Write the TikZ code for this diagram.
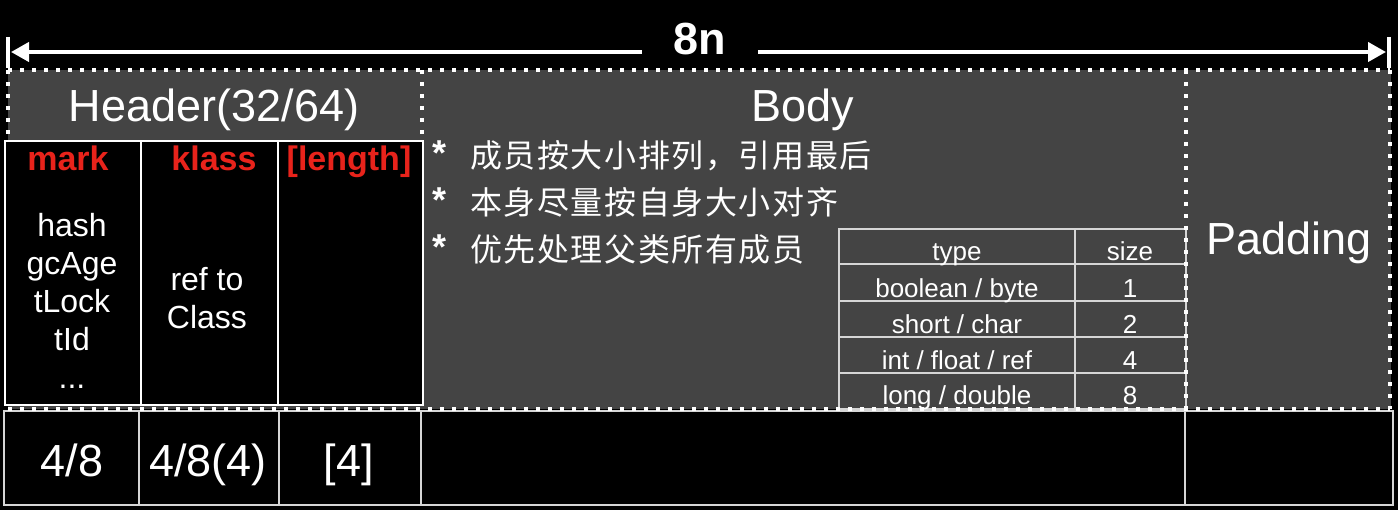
\documentclass[tikz,border=0pt]{standalone}
\usepackage{fontspec}
\setmainfont{Liberation Sans}
\newfontfamily\cjk[LetterSpace=5]{Noto Sans CJK SC}
\usetikzlibrary{arrows.meta}
\definecolor{greyc}{RGB}{68,68,68}
\definecolor{linec}{RGB}{214,214,214}
\definecolor{redc}{RGB}{232,35,27}
\newcommand\myfs[1]{\fontsize{#1}{#1}\selectfont}
\begin{document}
\begin{tikzpicture}[x=1pt,y=-1pt,
  dotln/.style={draw=white,line width=4pt,dash pattern=on 4pt off 8pt},
  gridln/.style={draw=linec,line width=2pt},
  wbox/.style={draw=white,line width=2pt},
  dimln/.style={draw=white,line width=4pt},
  big/.style={text=white,inner sep=0pt,anchor=base,font=\myfs{45}},
  redlbl/.style={text=redc,inner sep=0pt,anchor=base,font=\myfs{34}\bfseries},
  mid/.style={text=white,inner sep=0pt,anchor=base,font=\myfs{32}},
  tbl/.style={text=white,inner sep=0pt,anchor=base,font=\myfs{26}},
  cjkline/.style={text=white,inner sep=0pt,anchor=base west,font=\cjk\myfs{32}},
  star/.style={text=white,inner sep=0pt,anchor=base,font=\myfs{36}\bfseries}
]
\useasboundingbox (0,0) rectangle (1398,510);
\fill[black] (0,0) rectangle (1398,510);

% ---- dimension line ----
\coordinate (Ltop) at (8,37); \coordinate (Lbot) at (8,68);
\coordinate (Rtop) at (1389,37); \coordinate (Rbot) at (1389,68);
\coordinate (L) at (11,52); \coordinate (R) at (1386,52);
\draw[dimln] (Ltop) -- (Lbot);
\draw[dimln] (Rtop) -- (Rbot);
\node[text=white,inner ysep=0pt,inner xsep=32pt,anchor=base,font=\myfs{45}\bfseries] (n8) at (700,55) {8n};
\draw[dimln,{Triangle[length=18pt,width=19pt]}-] (L) -- (L -| n8.west);
\draw[dimln,-{Triangle[length=18pt,width=19pt]}] (R -| n8.east) -- (R);

% ---- grey region ----
\fill[greyc] (8,70) rectangle (1391,409);

% ---- type table ----
\draw[gridln] (839,229) rectangle (1186,409);
\draw[gridln] (1075,229) -- (1075,409);
\foreach \yy in {264,301,337,373} { \draw[gridln] (839,\yy) -- (1186,\yy); }

% ---- header black box ----
\fill[black] (5,141) rectangle (423,405);
\draw[wbox] (5,141) rectangle (423,405);
\draw[wbox] (141,141) -- (141,405);
\draw[wbox] (278,141) -- (278,405);

% ---- bottom row ----
\fill[black] (4,411) rectangle (1393,505);
\draw[gridln] (4,411) rectangle (1393,505);
\foreach \xx in {139,279,421,1185} { \draw[gridln] (\xx,411) -- (\xx,505); }

% ---- dotted borders ----
\draw[dotln] (8,70) -- (1390,70);
\draw[dotln] (8,409) -- (1390,409);
\draw[dotln] (8,70) -- (8,140);
\draw[dotln] (1390,70) -- (1390,409);
\draw[dotln] (422,70) -- (422,140);
\draw[dotln] (1186,70) -- (1186,409);

% ---- big titles ----
\node[big] (hdr) at (214,122) {Header(32/64)};
\node[big] (body) at (803,122) {Body};
\node[big] (pad) at (1289,255) {Padding};

% ---- header columns ----
\node[redlbl] (mark) at (68,171) {mark};
\node[redlbl] (klass) at (214,171) {klass};
\node[redlbl] (len) at (349,171) {[length]};
\node[mid] (m1) at (72,237) {hash};
\node[mid] (m2) at (72,275) {gcAge};
\node[mid] (m3) at (72,313) {tLock};
\node[mid] (m4) at (72,351) {tId};
\node[mid] (m5) at (72,389) {...};
\node[mid] (k1) at (207,291) {ref to};
\node[mid] (k2) at (207,329) {Class};

% ---- body bullets ----
\node[star] (s1) at (440,166) {*};
\node[star] (s2) at (440,213) {*};
\node[star] (s3) at (440,260) {*};
\node[cjkline] (c1) at (470,168) {成员按大小排列，引用最后};
\node[cjkline] (c2) at (470,215) {本身尽量按自身大小对齐};
\node[cjkline] (c3) at (470,262) {优先处理父类所有成员};

% ---- table texts ----
\node[tbl] (th1) at (957,261) {type};
\node[tbl] (th2) at (1130,261) {size};
\node[tbl] (r1a) at (957,298) {boolean / byte};
\node[tbl] (r1b) at (1130,298) {1};
\node[tbl] (r2a) at (957,334) {short / char};
\node[tbl] (r2b) at (1130,334) {2};
\node[tbl] (r3a) at (957,370) {int / float / ref};
\node[tbl] (r3b) at (1130,370) {4};
\node[tbl] (r4a) at (957,405) {long / double};
\node[tbl] (r4b) at (1130,405) {8};

% ---- bottom row sizes ----
\node[big] (b1) at (72,476) {4/8};
\node[big] (b2) at (208,476) {4/8(4)};
\node[big] (b3) at (349,476) {[4]};
\end{tikzpicture}
\end{document}
